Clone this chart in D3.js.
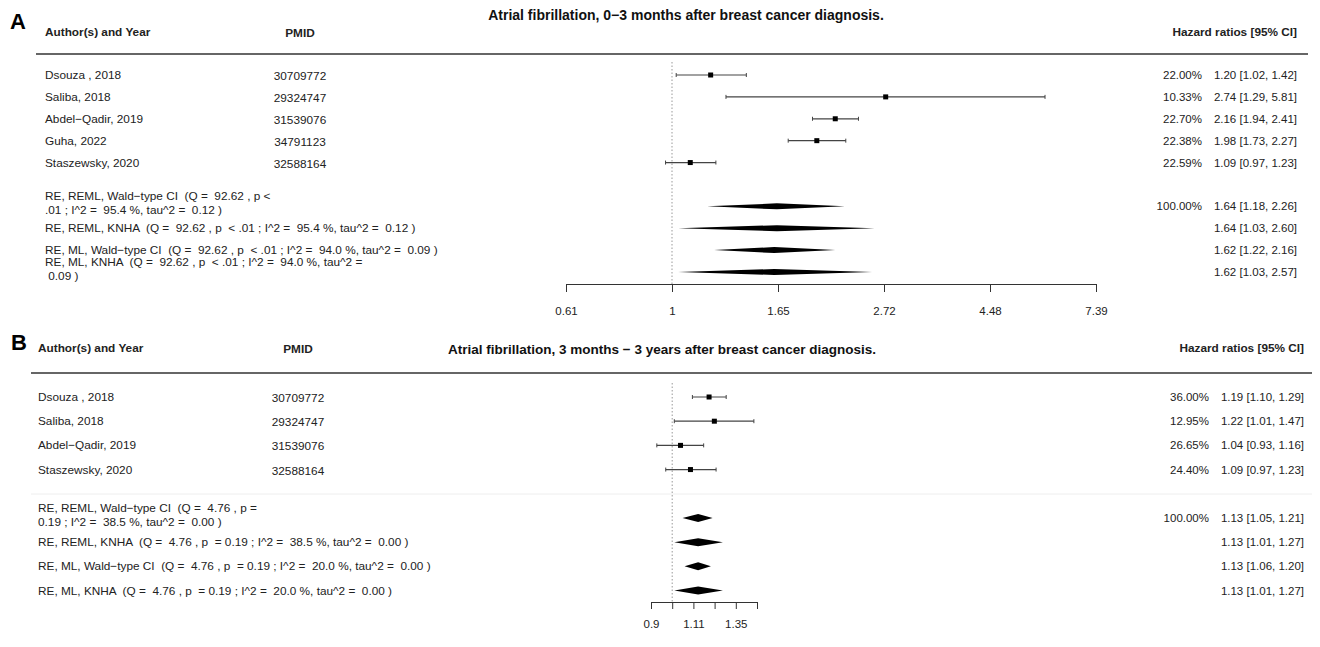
<!DOCTYPE html>
<html>
<head>
<meta charset="utf-8">
<script src="https://cdn.jsdelivr.net/npm/d3@7"></script>
<style>
  body { margin: 0; background: #fff; }
  text { font-family: "Liberation Sans", Arial, sans-serif; fill: #222; white-space: pre; }
</style>
</head>
<body>
<div id="chart"></div>
<script>
// ---- Panel A data ----
const titleA = 'Atrial fibrillation, 0−3 months after breast cancer diagnosis.'
const studiesA = ['Dsouza , 2018', 'Saliba, 2018', 'Abdel−Qadir, 2019', 'Guha, 2022', 'Staszewsky, 2020']
const pmidA = ['30709772', '29324747', '31539076', '34791123', '32588164']
const hrA = [1.20, 2.74, 2.16, 1.98, 1.09]
const loA = [1.02, 1.29, 1.94, 1.73, 0.97]
const hiA = [1.42, 5.81, 2.41, 2.27, 1.23]
const weightA = [22.00, 10.33, 22.70, 22.38, 22.59]
const pooledLabelsA = [
  ['RE, REML, Wald−type CI  (Q =  92.62 , p <', '.01 ; I^2 =  95.4 %, tau^2 =  0.12 )'],
  ['RE, REML, KNHA  (Q =  92.62 , p  < .01 ; I^2 =  95.4 %, tau^2 =  0.12 )'],
  ['RE, ML, Wald−type CI  (Q =  92.62 , p  < .01 ; I^2 =  94.0 %, tau^2 =  0.09 )'],
  ['RE, ML, KNHA  (Q =  92.62 , p  < .01 ; I^2 =  94.0 %, tau^2 =', ' 0.09 )']
]
const pooledHrA = [1.64, 1.64, 1.62, 1.62]
const pooledLoA = [1.18, 1.03, 1.22, 1.03]
const pooledHiA = [2.26, 2.60, 2.16, 2.57]
const pooledWeightA = [100.00, null, null, null]
const tickLogA = [-0.5, 0, 0.5, 1, 1.5, 2]
const tickLabelsA = ['0.61', '1', '1.65', '2.72', '4.48', '7.39']

// ---- Panel B data ----
const titleB = 'Atrial fibrillation, 3 months − 3 years after breast cancer diagnosis.'
const studiesB = ['Dsouza , 2018', 'Saliba, 2018', 'Abdel−Qadir, 2019', 'Staszewsky, 2020']
const pmidB = ['30709772', '29324747', '31539076', '32588164']
const hrB = [1.19, 1.22, 1.04, 1.09]
const loB = [1.10, 1.01, 0.93, 0.97]
const hiB = [1.29, 1.47, 1.16, 1.23]
const weightB = [36.00, 12.95, 26.65, 24.40]
const pooledLabelsB = [
  ['RE, REML, Wald−type CI  (Q =  4.76 , p =', '0.19 ; I^2 =  38.5 %, tau^2 =  0.00 )'],
  ['RE, REML, KNHA  (Q =  4.76 , p  = 0.19 ; I^2 =  38.5 %, tau^2 =  0.00 )'],
  ['RE, ML, Wald−type CI  (Q =  4.76 , p  = 0.19 ; I^2 =  20.0 %, tau^2 =  0.00 )'],
  ['RE, ML, KNHA  (Q =  4.76 , p  = 0.19 ; I^2 =  20.0 %, tau^2 =  0.00 )']
]
const pooledHrB = [1.13, 1.13, 1.13, 1.13]
const pooledLoB = [1.05, 1.01, 1.06, 1.01]
const pooledHiB = [1.21, 1.27, 1.20, 1.27]
const pooledWeightB = [100.00, null, null, null]
const tickLogB = [-0.1, 0, 0.1, 0.2, 0.3, 0.4]
const tickLabelsB = ['0.9', '', '1.11', '', '1.35', '']

const fmt = d3.format('.2f')
const leftFont = '11.8px'
const rightFont = '11.5px'

const svg = d3.select('#chart')
  .append('svg')
  .attr('width', 1320)
  .attr('height', 647)

forestPanel(svg, {
  letter: 'A', letterX: 10, letterY: 21,
  title: titleA, titleX: 686, titleY: 15, titleSize: '14px', headerY: 32,
  authorX: 45, pmidX: 300, rightX: 1297, weightX: 1202,
  ruleY: 54, ruleX: [36, 1308],
  rows: [75, 272], lastRow: 9,
  refTop: 62, axisY: 284, tickSize: 8, tickPad: 15,
  diamondH: 3, sq: 5,
  logDomain: [-0.5, 2], range: [566, 1096],
  studies: studiesA, pmid: pmidA, hr: hrA, lo: loA, hi: hiA, weight: weightA,
  pLabels: pooledLabelsA, pHr: pooledHrA, pLo: pooledLoA, pHi: pooledHiA, pWeight: pooledWeightA,
  tickLog: tickLogA, tickLabels: tickLabelsA
})

forestPanel(svg, {
  letter: 'B', letterX: 11, letterY: 342,
  title: titleB, titleX: 662, titleY: 349, titleSize: '13.5px', headerY: 348,
  authorX: 38, pmidX: 298, rightX: 1304, weightX: 1209,
  ruleY: 373, ruleX: [31, 1312], sepY: 494,
  rows: [397, 590.5], lastRow: 8,
  refTop: 383, axisY: 602, tickSize: 7, tickPad: 11,
  diamondH: 4, sq: 5,
  logDomain: [-0.1, 0.4], range: [651, 757],
  studies: studiesB, pmid: pmidB, hr: hrB, lo: loB, hi: hiB, weight: weightB,
  pLabels: pooledLabelsB, pHr: pooledHrB, pLo: pooledLoB, pHi: pooledHiB, pWeight: pooledWeightB,
  tickLog: tickLogB, tickLabels: tickLabelsB
})

function forestPanel(svg, p) {
  const x = d3.scaleLog()
    .domain(p.logDomain.map(Math.exp))
    .range(p.range)
  const y = d3.scaleLinear().domain([0, p.lastRow]).range(p.rows)
  const n = p.studies.length
  const g = svg.append('g')

  // Panel letter and headers
  g.append('text')
    .attr('x', p.letterX).attr('y', p.letterY)
    .attr('dominant-baseline', 'central')
    .style('font-size', '22px').style('font-weight', 'bold').style('fill', '#000')
    .text(p.letter)
  g.append('text')
    .attr('x', p.titleX).attr('y', p.titleY)
    .attr('dominant-baseline', 'central').attr('text-anchor', 'middle')
    .style('font-size', p.titleSize).style('font-weight', 'bold').style('fill', '#111')
    .text(p.title)
  g.append('text')
    .attr('x', p.authorX).attr('y', p.headerY)
    .attr('dominant-baseline', 'central')
    .style('font-size', leftFont).style('font-weight', 'bold')
    .text('Author(s) and Year')
  g.append('text')
    .attr('x', p.pmidX).attr('y', p.headerY + 1)
    .attr('dominant-baseline', 'central').attr('text-anchor', 'middle')
    .style('font-size', leftFont).style('font-weight', 'bold')
    .text('PMID')
  g.append('text')
    .attr('x', p.rightX).attr('y', p.headerY)
    .attr('dominant-baseline', 'central').attr('text-anchor', 'end')
    .style('font-size', leftFont).style('font-weight', 'bold')
    .text('Hazard ratios [95% CI]')

  // Header rule and optional faint separator
  g.append('line')
    .attr('x1', p.ruleX[0]).attr('x2', p.ruleX[1])
    .attr('y1', p.ruleY).attr('y2', p.ruleY)
    .style('stroke', '#333').style('stroke-width', 1.5)
  if (p.sepY) {
    g.append('line')
      .attr('x1', p.ruleX[0]).attr('x2', p.ruleX[1])
      .attr('y1', p.sepY).attr('y2', p.sepY)
      .style('stroke', '#eeeeee').style('stroke-width', 1)
  }

  // Reference line at HR = 1
  g.append('line')
    .attr('x1', x(1)).attr('x2', x(1))
    .attr('y1', p.refTop).attr('y2', p.axisY)
    .style('stroke', '#999').style('stroke-width', 1)
    .style('stroke-dasharray', '1.5,2')

  // Study rows
  const studyData = p.studies.map((s, i) => ({
    label: s, pmid: p.pmid[i], hr: p.hr[i], lo: p.lo[i], hi: p.hi[i], w: p.weight[i], row: i
  }))
  const rowsG = g.selectAll('.study')
    .data(studyData)
    .join('g')
    .attr('class', 'study')

  rowsG.append('text')
    .attr('x', p.authorX).attr('y', d => y(d.row))
    .attr('dominant-baseline', 'central')
    .style('font-size', leftFont)
    .text(d => d.label)
  rowsG.append('text')
    .attr('x', p.pmidX).attr('y', d => y(d.row) + 1)
    .attr('dominant-baseline', 'central').attr('text-anchor', 'middle')
    .style('font-size', leftFont)
    .text(d => d.pmid)
  rowsG.append('line')
    .attr('x1', d => x(d.lo)).attr('x2', d => x(d.hi))
    .attr('y1', d => y(d.row)).attr('y2', d => y(d.row))
    .style('stroke', '#444').style('stroke-width', 1.2)
  rowsG.selectAll('.cap')
    .data(d => [d.lo, d.hi].map(v => ({v: v, row: d.row})))
    .join('line')
    .attr('class', 'cap')
    .attr('x1', d => x(d.v)).attr('x2', d => x(d.v))
    .attr('y1', d => y(d.row) - 2).attr('y2', d => y(d.row) + 2)
    .style('stroke', '#444').style('stroke-width', 1)
  rowsG.append('rect')
    .attr('x', d => x(d.hr) - p.sq / 2).attr('y', d => y(d.row) - p.sq / 2)
    .attr('width', p.sq).attr('height', p.sq)
    .style('fill', '#000')
  rowsG.append('text')
    .attr('x', p.weightX).attr('y', d => y(d.row))
    .attr('dominant-baseline', 'central').attr('text-anchor', 'end')
    .style('font-size', rightFont)
    .text(d => fmt(d.w) + '%')
  rowsG.append('text')
    .attr('x', p.rightX).attr('y', d => y(d.row))
    .attr('dominant-baseline', 'central').attr('text-anchor', 'end')
    .style('font-size', rightFont)
    .text(d => `${fmt(d.hr)} [${fmt(d.lo)}, ${fmt(d.hi)}]`)

  // Pooled estimates
  const pooledData = p.pLabels.map((l, i) => ({
    lines: l, hr: p.pHr[i], lo: p.pLo[i], hi: p.pHi[i], w: p.pWeight[i], row: n + 1 + i
  }))
  const diamond = d3.line()
  const poolG = g.selectAll('.pooled')
    .data(pooledData)
    .join('g')
    .attr('class', 'pooled')

  poolG.each(function(d) {
    const el = d3.select(this)
    const yc = y(d.row)
    const top = d.lines.length > 1 ? yc - 10 : yc
    d.lines.forEach((t, j) => {
      el.append('text')
        .attr('x', p.authorX).attr('y', top + j * 14)
        .attr('dominant-baseline', 'central')
        .style('font-size', leftFont)
        .text(t)
    })
  })
  poolG.append('path')
    .attr('d', d => diamond([
      [x(d.lo), y(d.row)], [x(d.hr), y(d.row) - p.diamondH],
      [x(d.hi), y(d.row)], [x(d.hr), y(d.row) + p.diamondH]
    ]) + 'Z')
    .style('fill', '#000')
  poolG.filter(d => d.w !== null)
    .append('text')
    .attr('x', p.weightX).attr('y', d => y(d.row))
    .attr('dominant-baseline', 'central').attr('text-anchor', 'end')
    .style('font-size', rightFont)
    .text(d => fmt(d.w) + '%')
  poolG.append('text')
    .attr('x', p.rightX).attr('y', d => y(d.row))
    .attr('dominant-baseline', 'central').attr('text-anchor', 'end')
    .style('font-size', rightFont)
    .text(d => `${fmt(d.hr)} [${fmt(d.lo)}, ${fmt(d.hi)}]`)

  // Log-scaled x axis
  const axis = g.append('g')
    .attr('transform', `translate(0,${p.axisY})`)
    .call(d3.axisBottom(x)
      .tickValues(p.tickLog.map(Math.exp))
      .tickFormat((d, i) => p.tickLabels[i])
      .tickSize(p.tickSize)
      .tickSizeOuter(0)
      .tickPadding(p.tickPad))
  axis.select('.domain').style('stroke', '#333')
  axis.selectAll('.tick line').style('stroke', '#333')
  axis.selectAll('.tick text')
    .style('font-size', rightFont)
    .style('font-family', '"Liberation Sans", Arial, sans-serif')
    .style('fill', '#222')
}
</script>
</body>
</html>
